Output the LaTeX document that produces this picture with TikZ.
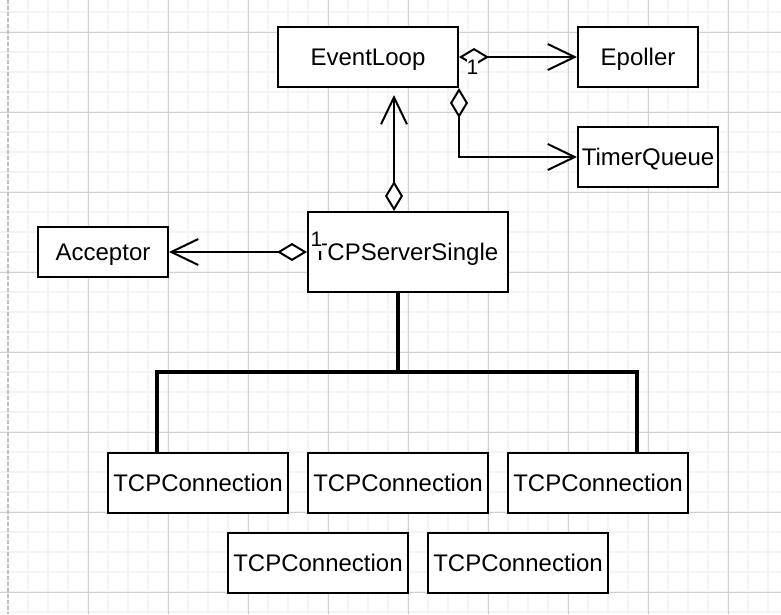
\documentclass[tikz,border=0pt]{standalone}
\usepackage{fontspec}
\setmainfont{Liberation Sans}
\usetikzlibrary{arrows.meta}
\definecolor{minorgrid}{RGB}{244,244,244}
\definecolor{majorgrid}{RGB}{208,208,208}
\definecolor{pageline}{RGB}{192,192,192}
\tikzset{
  umlbox/.style={draw=black, line width=2pt, fill=white, inner sep=0pt,
    font=\fontsize{24}{28}\selectfont, text height=21.72pt, text depth=5.09pt},
  aggline/.style={line width=2pt,
    {Diamond[fill=white,length=30pt,width=18pt]}-{Straight Barb[length=27pt,width=26pt]}},
  treeline/.style={line width=4pt},
  multlabel/.style={fill=white, inner sep=0pt, font=\fontsize{21}{24}\selectfont,
    text height=19pt, text depth=4.45pt},
}
\begin{document}
\begin{tikzpicture}[x=1pt,y=-1pt]
\useasboundingbox (0,0) rectangle (781,614);
\fill[white] (0,0) rectangle (781,614);
% grid
\foreach \x in {8,28,...,781} \draw[minorgrid, line width=1.6pt] (\x,0) -- (\x,614);
\foreach \y in {12,32,...,614} \draw[minorgrid, line width=1.6pt] (0,\y) -- (781,\y);
\foreach \x in {88,168,...,781} \draw[majorgrid, line width=1pt] (\x,0) -- (\x,614);
\foreach \y in {32,112,...,614} \draw[majorgrid, line width=1pt] (0,\y) -- (781,\y);
\draw[pageline, line width=1.5pt, dash pattern=on 4pt off 2pt] (8,0) -- (8,614);

% nodes
\node[umlbox, minimum width=180pt, minimum height=60pt] (el) at (368,57) {EventLoop};
\node[umlbox, minimum width=120pt, minimum height=60pt] (ep) at (638,57) {Epoller};
\node[umlbox, minimum width=140pt, minimum height=60pt] (tq) at (648,157) {TimerQueue};
\node[umlbox, minimum width=130pt, minimum height=50pt] (ac) at (103,252) {Acceptor};
\node[umlbox, minimum width=200pt, minimum height=80pt] (ts) at (408,252) {\kern-5pt TCPServerSingle};
\node[umlbox, minimum width=180pt, minimum height=60pt] (c1) at (198,483) {TCPConnection};
\node[umlbox, minimum width=180pt, minimum height=60pt] (c2) at (398,483) {TCPConnection};
\node[umlbox, minimum width=180pt, minimum height=60pt] (c3) at (598,483) {TCPConnection};
\node[umlbox, minimum width=180pt, minimum height=60pt] (c4) at (318,563) {TCPConnection};
\node[umlbox, minimum width=180pt, minimum height=60pt] (c5) at (518,563) {TCPConnection};

% coordinates
\coordinate (up) at (394,95);
\coordinate (jt) at (398,372);
\coordinate (jl) at (157,372);
\coordinate (jr) at (637,372);

% aggregation connectors
\draw[aggline] (el.east) -- (ep.west);
\draw[aggline] (el.south east) |- (tq.west);
\draw[aggline] (ts.north -| up) -- (up);
\draw[aggline] (ts.west) -- (ac.east);

% tree
\draw[treeline] (ts.south -| jt) -- (jt);
\draw[treeline] (c1.north -| jl) -- (jl) -- (jr) -- (c3.north -| jr);

% multiplicity labels
\node[multlabel] (m1) at (472.5,67.7) {1};
\node[multlabel] (m2) at (316.5,239.7) {1};
\end{tikzpicture}
\end{document}
